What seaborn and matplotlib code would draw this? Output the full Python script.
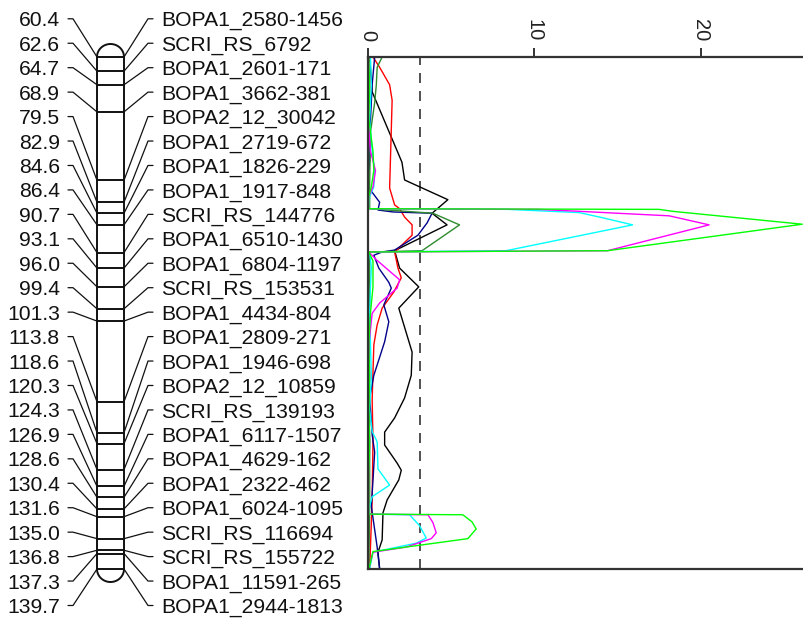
import numpy as np
import pandas as pd
import matplotlib
matplotlib.use("Agg")
import matplotlib.pyplot as plt
import seaborn as sns

# ---- linkage map ----
marker_pos = [60.4, 62.6, 64.7, 68.9, 79.5, 82.9, 84.6, 86.4, 90.7, 93.1,
              96.0, 99.4, 101.3, 113.8, 118.6, 120.3, 124.3, 126.9, 128.6,
              130.4, 131.6, 135.0, 136.8, 137.3, 139.7]
marker_names = ["BOPA1_2580-1456", "SCRI_RS_6792", "BOPA1_2601-171",
                "BOPA1_3662-381", "BOPA2_12_30042", "BOPA1_2719-672",
                "BOPA1_1826-229", "BOPA1_1917-848", "SCRI_RS_144776",
                "BOPA1_6510-1430", "BOPA1_6804-1197", "SCRI_RS_153531",
                "BOPA1_4434-804", "BOPA1_2809-271", "BOPA1_1946-698",
                "BOPA2_12_10859", "SCRI_RS_139193", "BOPA1_6117-1507",
                "BOPA1_4629-162", "BOPA1_2322-462", "BOPA1_6024-1095",
                "SCRI_RS_116694", "SCRI_RS_155722", "BOPA1_11591-265",
                "BOPA1_2944-1813"]

# ---- LOD profiles (position cM, LOD) ----
pos_black = [60.4, 65.8, 76.7, 79.45, 82.5, 84.6, 86.4, 90.4, 93.1, 96.0, 99.3,
             106.1, 109.7, 113.2, 116.3, 118.5, 120.5, 123.3, 124.4, 125.9,
             129.0, 131.0, 135.2, 137.1, 139.7]
lod_black = [0.1, 0.25, 2.04, 2.2, 4.8, 3.85, 4.75, 1.6, 1.9, 3.05, 1.85,
             2.65, 2.6, 2.2, 1.6, 1.0, 1.0, 1.75, 2.0, 1.85,
             1.15, 0.9, 0.85, 0.6, 0.7]

pos_red = [60.4, 62.0, 64.7, 67.1, 80.7, 83.3, 83.9, 85.2, 86.4, 88.0, 90.6,
           93.1, 94.6, 96.8, 99.3, 101.9, 105.0, 113.5, 119.7, 129.0, 139.7]
lod_red = [0.3, 0.7, 1.3, 1.45, 1.3, 1.6, 1.9, 2.2, 2.65, 2.65, 1.6,
           1.8, 2.0, 1.55, 0.85, 0.55, 0.35, 0.25, 0.3, 0.25, 0.1]

pos_navy = [60.4, 64.7, 70.0, 76.4, 80.5, 82.9, 84.1, 84.4, 84.6, 86.1, 88.0,
            90.3, 90.6, 91.1, 93.1, 95.3, 96.2, 98.8, 101.4, 104.5, 108.1,
            109.7, 113.2, 118.9, 121.6, 125.9, 130.0, 136.3, 139.7]
lod_navy = [0.4, 0.25, 0.15, 0.1, 0.0, 0.7, 0.6, 1.5, 3.85, 3.55, 3.0,
            1.6, 0.85, 0.35, 0.65, 1.25, 1.4, 0.95, 1.25, 1.0, 0.55,
            0.35, 0.1, 0.25, 0.4, 0.3, 0.2, 0.55, 0.7]

pos_dkgreen = [60.4, 62.0, 64.7, 67.5, 72.0, 80.0, 83.9, 84.6, 86.4, 90.4,
               90.6, 100.0, 110.0, 120.0, 130.0, 139.7]
lod_dkgreen = [0.85, 0.55, 0.5, 0.4, 0.15, 0.1, 0.1, 3.9, 5.5, 3.25,
               0.1, 0.1, 0.05, 0.1, 0.1, 0.05]

pos_cyan = [60.4, 64.7, 70.0, 75.0, 78.0, 80.5, 82.0, 83.9, 84.0, 84.5, 85.3,
            86.4, 90.4, 90.6, 93.0, 96.0, 100.0, 105.0, 110.0, 115.0, 118.4,
            120.0, 124.2, 126.7, 128.5, 130.4, 131.2, 131.3, 133.0, 134.9,
            135.7, 137.1, 139.7]
lod_cyan = [0.15, 0.2, 0.1, 0.25, 0.4, 0.35, 0.1, 0.05, 8.4, 12.7, 14.1,
            15.9, 8.3, 0.1, 0.2, 0.15, 0.1, 0.15, 0.2, 0.1, 0.25,
            0.55, 0.6, 1.3, 0.25, 0.05, 0.05, 2.5, 3.1, 3.5,
            2.9, 0.3, 0.1]

pos_magenta = [60.4, 65.0, 70.0, 75.0, 78.0, 80.5, 82.0, 83.9, 84.0, 84.3,
               84.6, 85.0, 86.4, 90.4, 90.6, 91.8, 94.9, 96.2, 98.5, 100.1,
               105.0, 110.0, 115.0, 120.0, 125.0, 131.2, 131.3, 132.5,
               134.1, 135.0, 136.3, 137.1, 139.7]
lod_magenta = [0.05, 0.1, 0.0, 0.15, 0.45, 0.3, 0.05, 0.05, 10.2, 12.7,
               15.0, 18.1, 20.5, 14.4, 0.05, 0.5, 1.9, 1.75, 0.7, 0.25,
               0.05, 0.1, 0.0, 0.1, 0.05, 0.05, 3.6, 3.9,
               4.1, 3.8, 2.3, 0.3, 0.05]

pos_green = [60.4, 65.0, 70.0, 75.0, 78.0, 80.5, 82.0, 83.9, 84.0, 84.3,
             85.3, 86.3, 90.4, 90.6, 92.0, 96.0, 100.0, 105.0, 110.0, 115.0,
             120.0, 125.0, 131.2, 131.3, 132.4, 133.5, 135.0, 137.0, 139.7]
lod_green = [0.05, 0.1, 0.05, 0.3, 0.35, 0.2, 0.05, 0.05, 17.5, 18.3,
             22.2, 26.1, 14.4, 0.05, 0.3, 0.3, 0.15, 0.05, 0.1, 0.05,
             0.1, 0.05, 0.05, 5.7, 6.25, 6.5, 6.0, 0.3, 0.05]

threshold = 3.1
lod_ticks = [0, 10, 20]

traits = {
    "black": (pos_black, lod_black, "#000000"),
    "red": (pos_red, lod_red, "#ff0000"),
    "navy": (pos_navy, lod_navy, "#00008b"),
    "dkgreen": (pos_dkgreen, lod_dkgreen, "#2e8b2e"),
    "cyan": (pos_cyan, lod_cyan, "#00ffff"),
    "magenta": (pos_magenta, lod_magenta, "#ff00ff"),
    "green": (pos_green, lod_green, "#00ff00"),
}
frames = []
for name, (p, l, _) in traits.items():
    frames.append(pd.DataFrame({"trait": name, "pos": p, "lod": l}))
df = pd.concat(frames, ignore_index=True)
palette = {k: v[2] for k, v in traits.items()}

sns.set_theme(style="white")
plt.rcParams["font.family"] = ["Liberation Sans", "DejaVu Sans"]

W, H = 804, 622
TOP, BOT = 57, 569
fig = plt.figure(figsize=(W / 100, H / 100), dpi=100)
fig.patch.set_facecolor("white")

y0 = 1 - BOT / H
hgt = (BOT - TOP) / H
pmin, pmax = marker_pos[0], marker_pos[-1]
upx = (pmax - pmin) / (BOT - TOP)  # cM per pixel

# ---- LOD panel ----
ax = fig.add_axes([368 / W, y0, (W - 368) / W, hgt])
sns.lineplot(data=df, x="lod", y="pos", hue="trait", palette=palette,
             hue_order=list(traits.keys()), units="trait", estimator=None,
             sort=False, orient="y", linewidth=1.0, legend=False, ax=ax)
ax.axvline(threshold, color="#333333", lw=1.2, ls=(0, (6, 4.8)), zorder=1)
ax.set_xlim(0, (W - 368) / 16.64)
ax.set_ylim(pmax, pmin)
ax.set_xlabel("")
ax.set_ylabel("")
ax.set_yticks([])
ax.xaxis.set_ticks_position("top")
ax.set_xticks(lod_ticks)
ax.set_xticklabels([str(t) for t in lod_ticks], rotation=270, fontsize=14.5,
                   color="#222222")
ax.tick_params(axis="x", which="both", direction="out", length=6.5, width=1.4,
               color="#333333", pad=5, top=True, bottom=False)
for side in ["left", "top", "bottom"]:
    ax.spines[side].set_visible(True)
    ax.spines[side].set_color("#333333")
    ax.spines[side].set_linewidth(1.6)
ax.spines["right"].set_visible(False)
ax.set_facecolor("white")

# ---- chromosome drawing ----
am = fig.add_axes([0, y0, 360 / W, hgt])
am.set_xlim(0, 360)
am.set_ylim(pmax, pmin)
am.axis("off")

cx_l, cx_r = 97, 124
cx_m = (cx_l + cx_r) / 2
rad = (cx_r - cx_l) / 2
cap_h = 13 * upx
lw_chr = 1.4
col = "#111111"
am.plot([cx_l, cx_l], [pmin, pmax], color=col, lw=lw_chr, clip_on=False)
am.plot([cx_r, cx_r], [pmin, pmax], color=col, lw=lw_chr, clip_on=False)
t = np.linspace(0, np.pi, 60)
am.plot(cx_m + rad * np.cos(t), pmin - cap_h * np.sin(t), color=col,
        lw=lw_chr, clip_on=False)
am.plot(cx_m + rad * np.cos(t), pmax + cap_h * np.sin(t), color=col,
        lw=lw_chr, clip_on=False)
for p in marker_pos:
    am.plot([cx_l, cx_r], [p, p], color=col, lw=1.4, clip_on=False)

n = len(marker_pos)
lab_y = np.linspace(pmin - (TOP - 18.8) * upx, pmin + (605.5 - TOP) * upx, n)
for p, yl, name in zip(marker_pos, lab_y, marker_names):
    am.plot([68, 73, cx_l], [yl, yl, p], color=col, lw=0.9, clip_on=False)
    am.plot([cx_r, 148, 153], [p, yl, yl], color=col, lw=0.9, clip_on=False)
    am.text(60, yl, f"{p:.1f}", ha="right", va="center_baseline",
            fontsize=15.2, color="#111111")
    am.text(161, yl, name, ha="left", va="center_baseline",
            fontsize=15.2, color="#111111")

fig.savefig("out.png", dpi=100, facecolor="white")
